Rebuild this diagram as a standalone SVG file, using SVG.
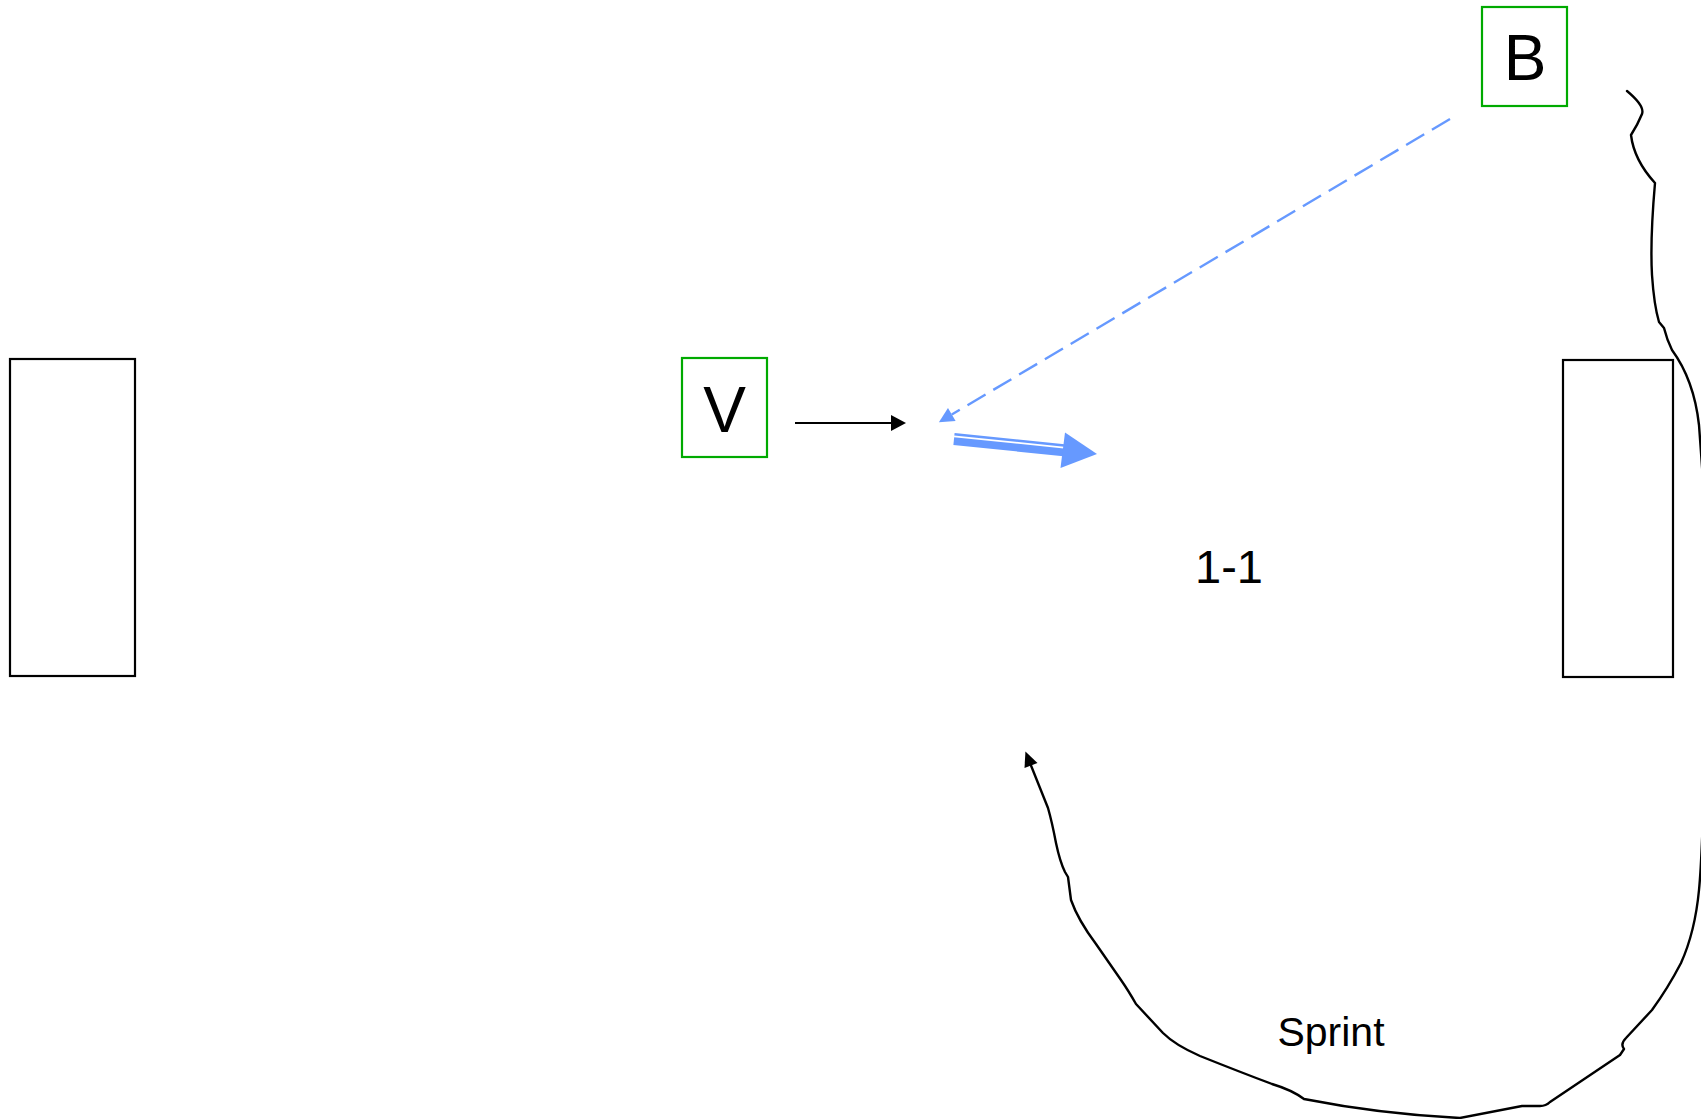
<svg xmlns="http://www.w3.org/2000/svg" width="1701" height="1119" viewBox="0 0 1701 1119">
  <style>
    .goal { fill: #ffffff; stroke: #000000; stroke-width: 2.2; }
    .player { fill: #ffffff; stroke: #00aa00; stroke-width: 2.2; }
    .ptxt { font-family: "Liberation Sans", Arial, sans-serif; font-size: 64px; fill: #000000; text-anchor: middle; }
    .lbl { font-family: "Liberation Sans", Arial, sans-serif; fill: #000000; text-anchor: middle; }
    .run { fill: none; stroke: #000000; stroke-width: 2.4; stroke-linejoin: round; stroke-linecap: round; }
    .pass { fill: none; stroke: #6699ff; stroke-width: 2.4; stroke-dasharray: 21 9; }
  </style>
  <defs>
    <marker id="arrBlack" markerUnits="userSpaceOnUse" markerWidth="16" markerHeight="16" refX="0" refY="8" orient="auto" overflow="visible">
      <path d="M0,0 L15,8 L0,16 Z" fill="#000000"/>
    </marker>
    <marker id="arrBlackS" markerUnits="userSpaceOnUse" markerWidth="16" markerHeight="14" refX="0" refY="7" orient="auto" overflow="visible">
      <path d="M0,0 L15,7 L0,14 Z" fill="#000000"/>
    </marker>
    <marker id="arrBlue" markerUnits="userSpaceOnUse" markerWidth="16" markerHeight="16" refX="0" refY="7.5" orient="auto" overflow="visible">
      <path d="M0,0 L15,7.5 L0,15 Z" fill="#6699ff"/>
    </marker>
  </defs>

  <g id="goal-left">
    <rect class="goal" x="10" y="359" width="125" height="317"/>
  </g>
  <g id="goal-right">
    <rect class="goal" x="1563" y="360" width="110" height="317"/>
  </g>

  <g id="player-V">
    <rect class="player" x="682" y="358" width="85" height="99"/>
    <text class="ptxt" x="724.5" y="432">V</text>
  </g>
  <g id="player-B">
    <rect class="player" x="1482" y="7" width="85" height="99"/>
    <text class="ptxt" x="1525" y="80">B</text>
  </g>

  <g id="label-score">
    <text class="lbl" x="1229" y="583" font-size="47">1-1</text>
  </g>
  <g id="label-sprint">
    <text class="lbl" x="1331" y="1046" font-size="41">Sprint</text>
  </g>

  <g id="connectors">
    <line x1="795" y1="423" x2="891" y2="423" stroke="#000000" stroke-width="2.2" marker-end="url(#arrBlack)"/>
    <line class="pass" x1="1450" y1="119" x2="951.8" y2="414.5" marker-end="url(#arrBlue)"/>
    <g id="dribble">
      <line x1="954" y1="439" x2="1064" y2="450.3" stroke="#6699ff" stroke-width="12"/>
      <line x1="954" y1="436.4" x2="1064" y2="447.6" stroke="#ffffff" stroke-width="1.8"/>
      <polygon points="1065,432.5 1097,454 1060.5,468" fill="#6699ff"/>
    </g>
    <path class="run" marker-end="url(#arrBlackS)" d="M1627,91 Q1645,106 1642,114 Q1638,124 1631,135 Q1634,160 1655,183 Q1650,240 1652,275 Q1654,305 1659,322 L1664,328 Q1667,340 1672,350 Q1694,380 1699,425 L1703,480 L1706,700 Q1703,850 1699,890 Q1695,932 1681,963 Q1668,988 1652,1010 L1626,1038 Q1620,1044 1624,1049 L1620,1055 L1550,1102 Q1546,1106 1540,1106 L1522,1106 L1460,1118 Q1380,1114 1304,1099 Q1292,1090 1272,1084 Q1240,1072 1200,1056 Q1175,1045 1163,1033 L1136,1004 Q1128,990 1121,980 L1096,944 Q1078,920 1071,900 L1068,877 L1065,872 Q1060,862 1056,843 Q1052,822 1048,808 L1031,765.5"/>
  </g>
</svg>
